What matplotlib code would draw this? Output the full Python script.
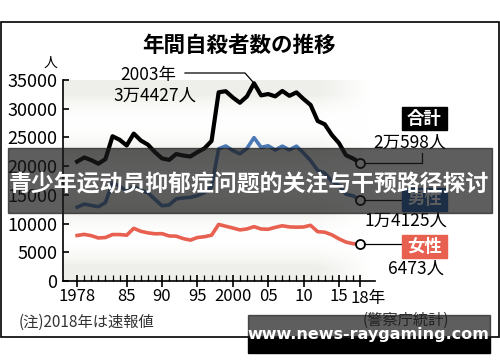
import numpy as np
import matplotlib
matplotlib.use('Agg')
import matplotlib.pyplot as plt
from matplotlib.patches import Rectangle
from matplotlib.lines import Line2D
from matplotlib.transforms import Affine2D

plt.rcParams['font.family'] = ['Noto Sans CJK JP', 'DejaVu Sans']

years = list(range(1978, 2019))
total = [20788, 21503, 21048, 20434, 21228, 25202, 24596, 23599, 25667, 24460,
         23742, 22436, 21346, 21084, 22104, 21851, 21679, 22445, 23104, 24391,
         32863, 33048, 31957, 31042, 32143, 34427, 32325, 32552, 32155, 33093,
         32249, 32845, 31690, 30651, 27858, 27283, 25427, 24025, 21897, 21321,
         20598]
male = [12859, 13386, 13155, 12942, 13654, 17116, 16508, 15624, 16497, 15802,
        15359, 14215, 13102, 13242, 14296, 14468, 14560, 14874, 15393, 16416,
        23013, 23512, 22727, 22144, 23080, 24963, 23272, 23540, 22813, 23478,
        22831, 23472, 22283, 20955, 19273, 18787, 17386, 16681, 15121, 14826,
        14125]
female = [7929, 8117, 7893, 7492, 7574, 8086, 8088, 7975, 9170, 8658,
          8383, 8221, 8244, 7842, 7808, 7383, 7119, 7571, 7711, 7975,
          9850, 9536, 9230, 8898, 9063, 9464, 9053, 9012, 9342, 9615,
          9418, 9373, 9407, 9696, 8585, 8496, 8041, 7344, 6776, 6495,
          6473]
major_ticks = [1978, 1985, 1990, 1995, 2000, 2005, 2010, 2015, 2018]
major_labels = ['1978', '85', '90', '95', '2000', '05', '10', '15', '']
y_ticks = [0, 5000, 10000, 15000, 20000, 25000, 30000, 35000]

W, H = 500, 362
fig = plt.figure(figsize=(W / 100, H / 100), dpi=100)
# pixel coords, origin top-left
P = Affine2D().scale(1 / W, -1 / H).translate(0, 1) + fig.transFigure

ax = fig.add_axes([63 / W, (H - 281) / H, 312 / W, 201 / H])
ax.set_xlim(1976.0, 2020.1)
ax.set_ylim(0, 35000)
for s in ['top', 'right']:
    ax.spines[s].set_visible(False)
ax.spines['left'].set_linewidth(1.2)
ax.spines['bottom'].set_linewidth(1.2)

# banded background fading out on the right
xs = np.linspace(1976.0, 2020.1, 300)
fade = np.clip((2019.5 - xs) / (2019.5 - 2012.0), 0, 1)
img = np.ones((7, len(xs), 4))
for i in range(7):
    if i % 2 == 0:
        img[i, :, 0] = 0.937
        img[i, :, 1] = 0.937
        img[i, :, 2] = 0.918
        img[i, :, 3] = fade
    else:
        img[i, :, 3] = 0
ax.imshow(img, extent=[1976.0, 2020.1, 0, 35000], origin='lower',
          aspect='auto', zorder=0, interpolation='bilinear')

ax.plot(years, female, color='#e8604f', lw=2.6, solid_joinstyle='round', zorder=2)
ax.plot(years, male, color='#4a78b4', lw=2.6, solid_joinstyle='round', zorder=2)
ax.plot(years, total, color='black', lw=3.0, solid_joinstyle='round', zorder=3)
for v in [total[-1], male[-1], female[-1]]:
    ax.plot([years[-1]], [v], 'o', ms=6.5, mfc='white', mec='black', mew=1.3,
            zorder=4, clip_on=False)

ax.set_yticks(y_ticks)
ax.set_yticklabels([str(v) for v in y_ticks], fontsize=13)
ax.tick_params(axis='y', direction='in', length=4, width=1.2, pad=4)
ax.set_xticks(major_ticks)
ax.set_xticklabels(major_labels, fontsize=12)
ax.set_xticks(years, minor=True)
ax.tick_params(axis='x', which='major', direction='inout', length=8, width=1.2, pad=1)
ax.tick_params(axis='x', which='minor', direction='in', length=4, width=0.9)

# frame
fig.add_artist(Rectangle((0.5, 22), 498, 315, transform=P, fill=False,
                         ec='black', lw=1.2, zorder=1))


def t(x, y, s, **kw):
    kw.setdefault('ha', 'center')
    kw.setdefault('va', 'center')
    fig.text(x, y, s, transform=P, **kw)


t(239, 45, '年間自殺者数の推移', fontsize=15.5, fontweight='bold')
t(50, 63, '人', fontsize=10)
t(350, 298, '18年', fontsize=12, ha='left')
t(148, 75, '2003年', fontsize=12.5)
t(155, 96, '3万4427人', fontsize=12.5)
fig.add_artist(Line2D([185, 245, 253], [73, 73, 82], transform=P, color='black', lw=0.9))

# end labels
fig.add_artist(Line2D([364, 422, 422], [163, 163, 153], transform=P, color='black', lw=0.9))
fig.add_artist(Line2D([364, 402], [200, 200], transform=P, color='black', lw=0.9))
fig.add_artist(Line2D([364, 402], [244, 244], transform=P, color='black', lw=0.9))
fig.add_artist(Rectangle((402, 107), 45, 23, transform=P, color='black', zorder=3))
t(424.5, 118.5, '合計', fontsize=12.5, color='white', fontweight='bold', zorder=4)
t(410, 143, '2万598人', fontsize=12.5)
fig.add_artist(Rectangle((402, 188), 45, 23, transform=P, color='#1f5fb0', zorder=3))
t(424.5, 199.5, '男性', fontsize=12.5, color='white', fontweight='bold', zorder=4)
t(406, 221, '1万4125人', fontsize=12.5)
fig.add_artist(Rectangle((402, 235), 45, 23, transform=P, color='#e8604f', zorder=3))
t(424.5, 246.5, '女性', fontsize=12.5, color='white', fontweight='bold', zorder=4)
t(416, 269, '6473人', fontsize=12.5)

t(86, 322, '(注)2018年は速報値', fontsize=11, color='#333333')
t(406, 320, '(警察庁統計)', fontsize=11, color='#333333')

# overlay banners
fig.add_artist(Rectangle((8, 148), 484, 65, transform=P, color='#1a1a1a',
                         alpha=0.7, zorder=10))
t(249, 185, '青少年运动员抑郁症问题的关注与干预路径探讨', fontsize=16.5,
  color='white', fontweight='bold', zorder=11,
  family=['Noto Sans CJK SC', 'DejaVu Sans'])
fig.add_artist(Rectangle((248, 337), 242, 16, transform=P, color='black', zorder=10))
fig.add_artist(Rectangle((248, 315), 242, 22, transform=P, color='#1a1a1a',
                         alpha=0.7, zorder=10))
t(368, 335, 'www.news-raygaming.com', fontsize=11.5, color='white',
  fontweight='bold', zorder=11, family=['DejaVu Sans'])

fig.savefig('out.png', dpi=100)
